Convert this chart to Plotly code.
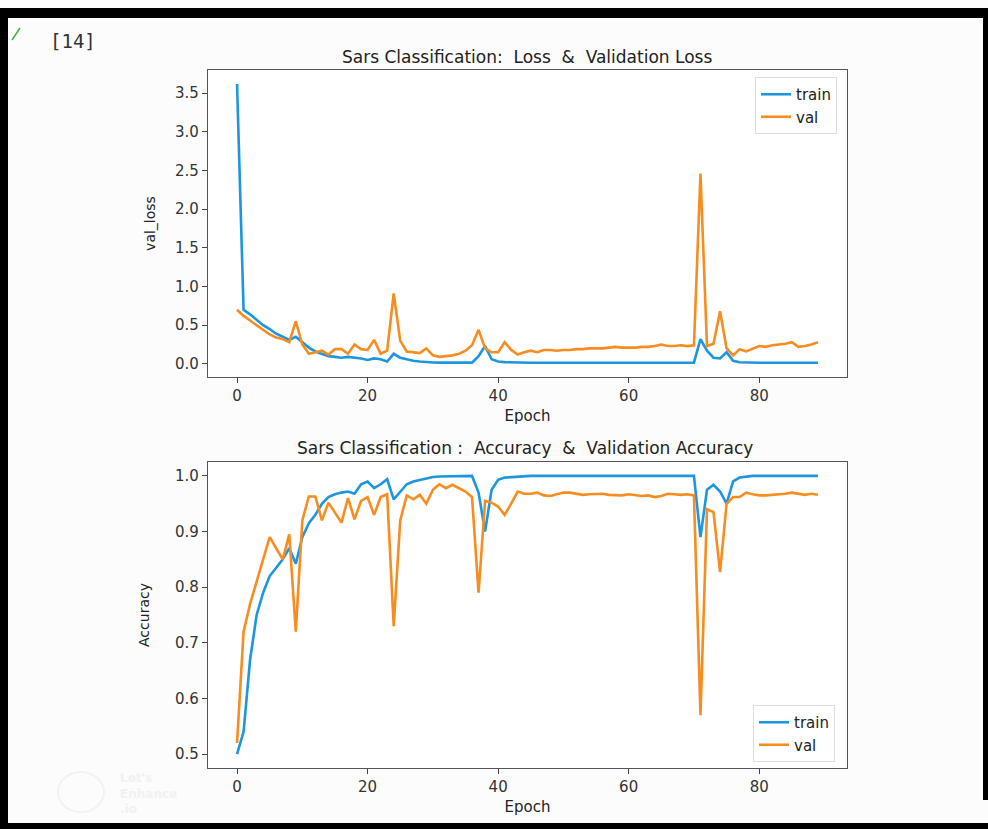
import plotly.graph_objects as go

W, H = 988, 829

epochs = list(range(90))

train_loss = [3.62, 0.70, 0.64, 0.57, 0.50, 0.45, 0.39, 0.35, 0.31, 0.35,
              0.28, 0.21, 0.16, 0.13, 0.10, 0.09, 0.08, 0.09, 0.08, 0.07,
              0.05, 0.07, 0.06, 0.03, 0.13, 0.08, 0.06, 0.04, 0.03, 0.02,
              0.018, 0.016, 0.015, 0.015, 0.015, 0.015, 0.016, 0.10, 0.23, 0.06,
              0.03, 0.022, 0.018, 0.016, 0.015, 0.015, 0.015, 0.014, 0.014, 0.014,
              0.014, 0.014, 0.014, 0.014, 0.014, 0.014, 0.014, 0.014, 0.014, 0.014,
              0.014, 0.014, 0.014, 0.014, 0.014, 0.014, 0.014, 0.014, 0.014, 0.014,
              0.015, 0.32, 0.17, 0.08, 0.07, 0.15, 0.04, 0.02, 0.015, 0.014,
              0.014, 0.014, 0.014, 0.014, 0.014, 0.014, 0.014, 0.014, 0.014, 0.014]

val_loss = [0.70, 0.62, 0.56, 0.50, 0.44, 0.38, 0.34, 0.32, 0.28, 0.55,
            0.25, 0.13, 0.15, 0.17, 0.12, 0.19, 0.19, 0.13, 0.25, 0.19,
            0.18, 0.31, 0.13, 0.17, 0.91, 0.30, 0.16, 0.15, 0.14, 0.20,
            0.11, 0.09, 0.10, 0.11, 0.13, 0.17, 0.24, 0.44, 0.20, 0.15,
            0.15, 0.28, 0.18, 0.12, 0.15, 0.17, 0.15, 0.18, 0.18, 0.17,
            0.18, 0.18, 0.19, 0.19, 0.20, 0.20, 0.20, 0.21, 0.22, 0.21,
            0.21, 0.21, 0.22, 0.22, 0.23, 0.25, 0.23, 0.23, 0.24, 0.23,
            0.24, 2.46, 0.23, 0.26, 0.68, 0.20, 0.11, 0.19, 0.16, 0.20,
            0.23, 0.22, 0.24, 0.25, 0.26, 0.28, 0.22, 0.23, 0.25, 0.28]

train_acc = [0.50, 0.54, 0.67, 0.75, 0.79, 0.82, 0.835, 0.85, 0.87, 0.842,
             0.89, 0.915, 0.93, 0.95, 0.962, 0.967, 0.970, 0.972, 0.968, 0.985,
             0.99, 0.978, 0.985, 0.994, 0.958, 0.972, 0.985, 0.99, 0.993, 0.996,
             0.998, 0.999, 0.999, 1.0, 1.0, 1.0, 1.0, 0.97, 0.90, 0.975,
             0.993, 0.997, 0.998, 0.999, 1.0, 1.0, 1.0, 1.0, 1.0, 1.0,
             1.0, 1.0, 1.0, 1.0, 1.0, 1.0, 1.0, 1.0, 1.0, 1.0,
             1.0, 1.0, 1.0, 1.0, 1.0, 1.0, 1.0, 1.0, 1.0, 1.0,
             1.0, 0.89, 0.975, 0.984, 0.972, 0.95, 0.99, 0.997, 0.999, 1.0,
             1.0, 1.0, 1.0, 1.0, 1.0, 1.0, 1.0, 1.0, 1.0, 1.0]

val_acc = [0.52, 0.72, 0.77, 0.81, 0.85, 0.89, 0.87, 0.85, 0.895, 0.72,
           0.92, 0.963, 0.963, 0.92, 0.952, 0.935, 0.916, 0.96, 0.922, 0.955,
           0.962, 0.93, 0.962, 0.967, 0.73, 0.92, 0.965, 0.958, 0.966, 0.95,
           0.975, 0.985, 0.978, 0.984, 0.978, 0.972, 0.962, 0.79, 0.955, 0.952,
           0.945, 0.93, 0.95, 0.972, 0.968, 0.968, 0.97, 0.965, 0.964, 0.967,
           0.97, 0.97, 0.968, 0.966, 0.967, 0.968, 0.968, 0.966, 0.965, 0.965,
           0.967, 0.966, 0.964, 0.965, 0.962, 0.964, 0.968, 0.967, 0.966, 0.967,
           0.965, 0.57, 0.94, 0.935, 0.827, 0.95, 0.962, 0.962, 0.97, 0.967,
           0.965, 0.965, 0.966, 0.966, 0.968, 0.97, 0.968, 0.966, 0.968, 0.966]

loss_ticks = [0.0, 0.5, 1.0, 1.5, 2.0, 2.5, 3.0, 3.5]
acc_ticks = [0.5, 0.6, 0.7, 0.8, 0.9, 1.0]
x_ticks = [0, 20, 40, 60, 80]

title_top = "Sars Classification:  Loss  &  Validation Loss"
title_bottom = "Sars Classification :  Accuracy  &  Validation Accuracy"

BLUE = "#1c96de"
ORANGE = "#f78c1f"
FONT = "DejaVu Sans"
LW = 2.6

def px_x(p):
    return p / W

def px_y(p):
    return 1 - p / H

fig = go.Figure()
fig.add_trace(go.Scatter(x=epochs, y=train_loss, mode="lines", name="train",
                         line=dict(color=BLUE, width=LW), xaxis="x", yaxis="y",
                         legend="legend"))
fig.add_trace(go.Scatter(x=epochs, y=val_loss, mode="lines", name="val",
                         line=dict(color=ORANGE, width=LW), xaxis="x", yaxis="y",
                         legend="legend"))
fig.add_trace(go.Scatter(x=epochs, y=train_acc, mode="lines", name="train",
                         line=dict(color=BLUE, width=LW), xaxis="x2", yaxis="y2",
                         legend="legend2"))
fig.add_trace(go.Scatter(x=epochs, y=val_acc, mode="lines", name="val",
                         line=dict(color=ORANGE, width=LW), xaxis="x2", yaxis="y2",
                         legend="legend2"))

axis_common = dict(showline=True, linecolor="#555", linewidth=1.3, mirror=True,
                   ticks="outside", ticklen=5, tickcolor="#444", showgrid=False,
                   zeroline=False, tickfont=dict(family=FONT, size=15, color="#333"))

xdom = [px_x(208), px_x(847)]
fig.update_layout(
    width=W, height=H,
    margin=dict(l=0, r=0, t=0, b=0),
    paper_bgcolor="#fcfcfc", plot_bgcolor="white",
    font=dict(family=FONT, color="#222"),
    xaxis=dict(domain=xdom, range=[-4.45, 93.45], tickvals=x_ticks, anchor="y",
               title=dict(text="Epoch", font=dict(size=15), standoff=6), **axis_common),
    yaxis=dict(domain=[px_y(377), px_y(70)], range=[-0.17, 3.80], tickvals=loss_ticks,
               tickformat=".1f", anchor="x",
               title=dict(text="val_loss", font=dict(size=14), standoff=16), **axis_common),
    xaxis2=dict(domain=xdom, range=[-4.45, 93.45], tickvals=x_ticks, anchor="y2",
                title=dict(text="Epoch", font=dict(size=15), standoff=6), **axis_common),
    yaxis2=dict(domain=[px_y(768), px_y(462)], range=[0.475, 1.025], tickvals=acc_ticks,
                tickformat=".1f", anchor="x2",
                title=dict(text="Accuracy", font=dict(size=14), standoff=22), **axis_common),
    legend=dict(x=px_x(837), y=px_y(77), xanchor="right", yanchor="top",
                bgcolor="white", bordercolor="#ddd", borderwidth=1,
                font=dict(family=FONT, size=15, color="#222")),
    legend2=dict(x=px_x(835), y=px_y(762), xanchor="right", yanchor="bottom",
                 bgcolor="white", bordercolor="#ddd", borderwidth=1,
                 font=dict(family=FONT, size=15, color="#222")),
    showlegend=True,
)

annotations = [
    dict(text=title_top, x=px_x(527), y=px_y(57), xref="paper", yref="paper",
         xanchor="center", yanchor="middle", showarrow=False,
         font=dict(family=FONT, size=17, color="#222")),
    dict(text=title_bottom, x=px_x(525), y=px_y(448), xref="paper", yref="paper",
         xanchor="center", yanchor="middle", showarrow=False,
         font=dict(family=FONT, size=17, color="#222")),
    dict(text="[14]", x=px_x(48), y=px_y(41), xref="paper", yref="paper",
         xanchor="left", yanchor="middle", showarrow=False,
         font=dict(family="DejaVu Sans Mono", size=19, color="#333")),
    dict(text="<b>Let's<br>Enhance<br>.io</b>", x=px_x(118), y=px_y(793), xref="paper",
         yref="paper", xanchor="left", yanchor="middle", align="left", showarrow=False,
         font=dict(family=FONT, size=12, color="#f1f1f1")),
]
fig.update_layout(annotations=annotations)

shapes = [
    dict(type="rect", xref="paper", yref="paper", x0=0, x1=1, y0=px_y(18), y1=px_y(8),
         fillcolor="black", line=dict(width=0)),
    dict(type="rect", xref="paper", yref="paper", x0=0, x1=px_x(8), y0=0, y1=px_y(8),
         fillcolor="black", line=dict(width=0)),
    dict(type="rect", xref="paper", yref="paper", x0=0, x1=1, y0=0, y1=px_y(823),
         fillcolor="black", line=dict(width=0)),
    dict(type="rect", xref="paper", yref="paper", x0=px_x(983), x1=1, y0=px_y(800),
         y1=px_y(8), fillcolor="black", line=dict(width=0)),
    dict(type="line", xref="paper", yref="paper", x0=px_x(12), y0=px_y(40),
         x1=px_x(20), y1=px_y(28), line=dict(color="#3bb34a", width=1.5)),
    dict(type="circle", xref="paper", yref="paper", x0=px_x(58), x1=px_x(104),
         y0=px_y(812), y1=px_y(772), line=dict(color="#f2f2f2", width=2)),
]
fig.update_layout(shapes=shapes)

fig.write_html("out.html", config={"displayModeBar": False},
               post_script="document.body.style.margin='0';document.body.style.overflow='hidden';")
